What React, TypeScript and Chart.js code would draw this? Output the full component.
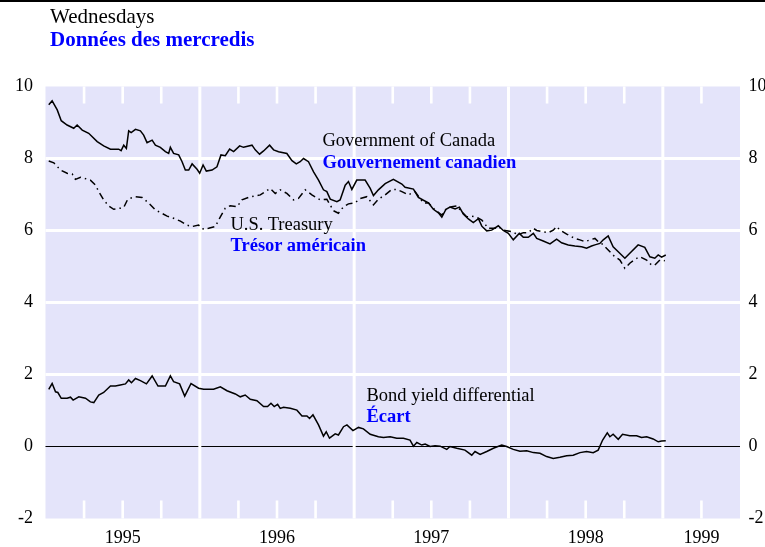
import React, { useEffect, useRef } from "react";
import { Chart, registerables } from "chart.js";

Chart.register(...registerables);

// ---------- DATA ----------
// Government of Canada long bond yield (weekly, Wednesdays), decimal-year dates
const canadaDates = [
  1995.021, 1995.043, 1995.076, 1995.102, 1995.140, 1995.183, 1995.205, 1995.238, 1995.280, 1995.335,
  1995.377, 1995.421, 1995.474, 1995.490, 1995.507, 1995.524, 1995.539, 1995.555, 1995.583, 1995.615,
  1995.636, 1995.658, 1995.691, 1995.712, 1995.744, 1995.777, 1995.798, 1995.809, 1995.830, 1995.863,
  1995.885, 1995.906, 1995.928, 1995.950, 1995.982, 1995.999, 1996.021, 1996.042, 1996.079, 1996.111,
  1996.137, 1996.165, 1996.193, 1996.219, 1996.258, 1996.283, 1996.338, 1996.359, 1996.387, 1996.413,
  1996.452, 1996.478, 1996.510, 1996.564, 1996.597, 1996.625, 1996.650, 1996.672, 1996.704, 1996.737,
  1996.769, 1996.801, 1996.823, 1996.845, 1996.888, 1996.909, 1996.942, 1996.963, 1996.985, 1997.017,
  1997.071, 1997.104, 1997.125, 1997.157, 1997.201, 1997.254, 1997.309, 1997.330, 1997.384, 1997.416,
  1997.449, 1997.481, 1997.513, 1997.546, 1997.568, 1997.595, 1997.621, 1997.654, 1997.682, 1997.707,
  1997.740, 1997.772, 1997.805, 1997.827, 1997.859, 1997.891, 1997.934, 1997.966, 1997.999, 1998.031,
  1998.070, 1998.096, 1998.128, 1998.161, 1998.183, 1998.225, 1998.269, 1998.312, 1998.344, 1998.387,
  1998.430, 1998.474, 1998.506, 1998.538, 1998.560, 1998.592, 1998.614, 1998.646, 1998.678, 1998.711,
  1998.754, 1998.786, 1998.840, 1998.883, 1998.916, 1998.948, 1998.970, 1998.992, 1999.019,
];
const canadaYields = [
  9.49, 9.60, 9.35, 9.05, 8.93, 8.84, 8.93, 8.79, 8.70, 8.47,
  8.35, 8.26, 8.26, 8.22, 8.37, 8.28, 8.77, 8.72, 8.81, 8.77,
  8.65, 8.44, 8.51, 8.37, 8.31, 8.19, 8.14, 8.31, 8.14, 8.10,
  7.91, 7.68, 7.68, 7.85, 7.70, 7.59, 7.82, 7.65, 7.68, 7.77,
  8.10, 8.08, 8.26, 8.19, 8.35, 8.31, 8.37, 8.24, 8.12, 8.21,
  8.37, 8.24, 8.19, 8.14, 7.94, 7.85, 7.91, 8.00, 7.91, 7.63,
  7.40, 7.13, 7.08, 6.87, 6.80, 6.85, 7.26, 7.36, 7.14, 7.40,
  7.40, 7.17, 6.97, 7.13, 7.30, 7.42, 7.29, 7.20, 7.15, 6.92,
  6.84, 6.77, 6.59, 6.49, 6.37, 6.59, 6.65, 6.60, 6.65, 6.46,
  6.32, 6.22, 6.33, 6.12, 5.99, 6.01, 6.13, 6.00, 5.92, 5.74,
  5.92, 5.81, 5.81, 5.92, 5.78, 5.71, 5.63, 5.76, 5.66, 5.60,
  5.57, 5.55, 5.51, 5.57, 5.60, 5.64, 5.74, 5.85, 5.55, 5.41,
  5.23, 5.37, 5.60, 5.53, 5.27, 5.23, 5.32, 5.26, 5.32,
];

// U.S. Treasury long bond yield
const usDates = [
  1995.021, 1995.054, 1995.097, 1995.140, 1995.173, 1995.194, 1995.227, 1995.291, 1995.324, 1995.345,
  1995.377, 1995.410, 1995.442, 1995.485, 1995.507, 1995.533, 1995.583, 1995.626, 1995.669, 1995.712,
  1995.744, 1995.788, 1995.830, 1995.874, 1995.917, 1995.950, 1995.992, 1996.025, 1996.057, 1996.100,
  1996.133, 1996.165, 1996.197, 1996.241, 1996.273, 1996.316, 1996.359, 1996.392, 1996.424, 1996.456,
  1996.489, 1996.521, 1996.564, 1996.607, 1996.639, 1996.683, 1996.726, 1996.780, 1996.823, 1996.866,
  1996.898, 1996.931, 1996.963, 1997.006, 1997.039, 1997.082, 1997.125, 1997.157, 1997.201, 1997.244,
  1997.276, 1997.309, 1997.351, 1997.395, 1997.449, 1997.481, 1997.524, 1997.568, 1997.600, 1997.632,
  1997.665, 1997.697, 1997.729, 1997.762, 1997.794, 1997.827, 1997.869, 1997.913, 1997.934, 1997.966,
  1998.021, 1998.063, 1998.096, 1998.128, 1998.161, 1998.183, 1998.215, 1998.258, 1998.290, 1998.312,
  1998.333, 1998.377, 1998.430, 1998.463, 1998.495, 1998.528, 1998.560, 1998.581, 1998.603, 1998.646,
  1998.689, 1998.722, 1998.754, 1998.786, 1998.819, 1998.851, 1998.895, 1998.927, 1998.948, 1998.981,
  1999.013,
];
const usYields = [
  7.93, 7.88, 7.68, 7.59, 7.57, 7.42, 7.48, 7.40, 7.26, 7.08,
  6.85, 6.68, 6.59, 6.62, 6.64, 6.87, 6.94, 6.92, 6.76, 6.57,
  6.50, 6.40, 6.34, 6.26, 6.15, 6.11, 6.15, 6.03, 6.06, 6.11,
  6.38, 6.62, 6.69, 6.66, 6.85, 6.92, 6.96, 6.99, 7.08, 7.17,
  7.03, 7.13, 7.03, 6.85, 6.89, 7.13, 6.99, 6.85, 6.87, 6.55,
  6.48, 6.66, 6.74, 6.77, 6.89, 6.94, 6.71, 6.87, 6.99, 7.14,
  7.14, 7.08, 6.99, 7.08, 6.76, 6.77, 6.57, 6.43, 6.62, 6.66,
  6.68, 6.52, 6.38, 6.40, 6.37, 6.29, 6.06, 6.06, 6.11, 6.01,
  5.97, 5.88, 5.94, 5.94, 6.06, 6.00, 5.97, 5.94, 6.01, 6.11,
  6.01, 5.90, 5.78, 5.74, 5.69, 5.74, 5.78, 5.69, 5.64, 5.46,
  5.27, 5.18, 4.95, 5.09, 5.20, 5.27, 5.18, 5.04, 5.04, 5.18,
  5.16,
];

// Bond yield differential (Canada minus U.S.)
const spreadDates = [
  1995.021, 1995.043, 1995.065, 1995.080, 1995.102, 1995.140, 1995.162, 1995.179, 1995.216, 1995.259,
  1995.291, 1995.313, 1995.345, 1995.377, 1995.421, 1995.453, 1995.485, 1995.518, 1995.539, 1995.557,
  1995.583, 1995.615, 1995.654, 1995.691, 1995.729, 1995.777, 1995.809, 1995.830, 1995.869, 1995.902,
  1995.943, 1995.992, 1996.025, 1996.089, 1996.133, 1996.176, 1996.230, 1996.262, 1996.294, 1996.327,
  1996.370, 1996.413, 1996.439, 1996.461, 1996.482, 1996.504, 1996.521, 1996.542, 1996.586, 1996.629,
  1996.662, 1996.694, 1996.711, 1996.733, 1996.769, 1996.801, 1996.819, 1996.840, 1996.877, 1996.898,
  1996.931, 1996.953, 1996.992, 1997.028, 1997.060, 1997.104, 1997.157, 1997.190, 1997.233, 1997.276,
  1997.319, 1997.362, 1997.384, 1997.406, 1997.438, 1997.460, 1997.492, 1997.524, 1997.557, 1997.600,
  1997.621, 1997.665, 1997.718, 1997.762, 1997.783, 1997.816, 1997.859, 1997.902, 1997.956, 1997.988,
  1998.031, 1998.074, 1998.118, 1998.161, 1998.204, 1998.247, 1998.290, 1998.333, 1998.377, 1998.419,
  1998.463, 1998.506, 1998.549, 1998.581, 1998.610, 1998.640, 1998.657, 1998.678, 1998.711, 1998.739,
  1998.786, 1998.830, 1998.862, 1998.895, 1998.937, 1998.970, 1998.992, 1999.019,
];
const spreadValues = [
  1.59, 1.75, 1.52, 1.50, 1.34, 1.34, 1.37, 1.29, 1.38, 1.34,
  1.24, 1.22, 1.43, 1.50, 1.68, 1.68, 1.71, 1.74, 1.85, 1.77,
  1.89, 1.83, 1.74, 1.96, 1.68, 1.68, 1.96, 1.80, 1.74, 1.40,
  1.75, 1.62, 1.59, 1.59, 1.66, 1.55, 1.46, 1.38, 1.43, 1.31,
  1.27, 1.11, 1.11, 1.20, 1.11, 1.17, 1.06, 1.09, 1.06, 1.01,
  0.85, 0.85, 0.78, 0.88, 0.60, 0.29, 0.41, 0.23, 0.35, 0.32,
  0.55, 0.60, 0.44, 0.53, 0.49, 0.34, 0.27, 0.25, 0.27, 0.23,
  0.23, 0.18, 0.01, 0.11, 0.04, 0.07, 0.00, 0.02, 0.01, -0.08,
  0.00, -0.05, -0.10, -0.24, -0.14, -0.22, -0.14, -0.05, 0.04, 0.00,
  -0.08, -0.13, -0.12, -0.17, -0.19, -0.28, -0.33, -0.30, -0.26, -0.24,
  -0.17, -0.14, -0.17, -0.10, 0.18, 0.38, 0.27, 0.34, 0.20, 0.34,
  0.30, 0.30, 0.25, 0.27, 0.21, 0.13, 0.15, 0.16,
];

// Axis / tick data
const yearTickValues = [1995.5, 1996.5, 1997.5, 1998.5, 1999.25];
const yearTickLabels = ["1995", "1996", "1997", "1998", "1999"];
const yearBoundaries = [1996, 1997, 1998, 1999];
const quarterTicks = [
  1995.25, 1995.5, 1995.75, 1996.25, 1996.5, 1996.75, 1997.25, 1997.5, 1997.75,
  1998.25, 1998.5, 1998.75, 1999.25,
];
const horizontalGridValues = [2, 4, 6, 8];

// ---------- STYLE ----------
const SERIF = '"Liberation Serif", "Times New Roman", Times, serif';
const PLOT_BG = "#e4e4fa";
const BLUE = "#0000ff";

const toPoints = (xs: number[], ys: number[]) => xs.map((x, i) => ({ x, y: ys[i] }));

const gridPlugin = {
  id: "bocGrid",
  beforeDatasetsDraw(chart: any) {
    const { ctx, chartArea: a, scales } = chart;
    const sx = scales.x;
    const sy = scales.y;
    ctx.save();
    ctx.fillStyle = PLOT_BG;
    ctx.fillRect(a.left, a.top, a.right - a.left, a.bottom - a.top);

    ctx.strokeStyle = "#ffffff";
    ctx.lineWidth = 3;
    for (const v of horizontalGridValues) {
      const py = sy.getPixelForValue(v);
      ctx.beginPath();
      ctx.moveTo(a.left, py);
      ctx.lineTo(a.right, py);
      ctx.stroke();
    }

    // zero line
    ctx.strokeStyle = "#000000";
    ctx.lineWidth = 1.2;
    const zy = sy.getPixelForValue(0);
    ctx.beginPath();
    ctx.moveTo(a.left, zy);
    ctx.lineTo(a.right, zy);
    ctx.stroke();

    ctx.strokeStyle = "#ffffff";
    ctx.lineWidth = 3;
    for (const v of yearBoundaries) {
      const px = sx.getPixelForValue(v);
      ctx.beginPath();
      ctx.moveTo(px, a.top);
      ctx.lineTo(px, a.bottom);
      ctx.stroke();
    }
    ctx.lineWidth = 2.6;
    for (const v of quarterTicks) {
      const px = sx.getPixelForValue(v);
      ctx.beginPath();
      ctx.moveTo(px, a.top);
      ctx.lineTo(px, a.top + 17);
      ctx.moveTo(px, a.bottom - 18);
      ctx.lineTo(px, a.bottom);
      ctx.stroke();
    }
    ctx.restore();
  },
};

function ChartCanvas() {
  const ref = useRef<HTMLCanvasElement | null>(null);
  useEffect(() => {
    if (!ref.current) return;
    const tickFont = { family: SERIF, size: 18 };
    const chart = new Chart(ref.current, {
      type: "line",
      data: {
        datasets: [
          {
            label: "Government of Canada",
            data: toPoints(canadaDates, canadaYields),
            borderColor: "#000000",
            borderWidth: 1.5,
            pointRadius: 0,
            tension: 0,
            yAxisID: "y",
          },
          {
            label: "U.S. Treasury",
            data: toPoints(usDates, usYields),
            borderColor: "#000000",
            borderWidth: 1.5,
            borderDash: [7, 4, 1.5, 4],
            pointRadius: 0,
            tension: 0,
            yAxisID: "y",
          },
          {
            label: "Bond yield differential",
            data: toPoints(spreadDates, spreadValues),
            borderColor: "#000000",
            borderWidth: 1.5,
            pointRadius: 0,
            tension: 0,
            yAxisID: "y",
          },
        ],
      },
      options: {
        animation: false,
        responsive: false,
        devicePixelRatio: 1,
        layout: { padding: { top: 86.5, left: 0, right: 0, bottom: 0 } },
        plugins: { legend: { display: false }, tooltip: { enabled: false }, title: { display: false } },
        scales: {
          x: {
            type: "linear",
            position: "bottom",
            min: 1995,
            max: 1999.5,
            grid: { display: false },
            border: { display: false },
            ticks: {
              font: tickFont,
              color: "#000000",
              padding: 1,
              autoSkip: false,
              maxRotation: 0,
              callback: (_v: any, i: number) => yearTickLabels[i],
            },
            afterBuildTicks: (s: any) => {
              s.ticks = yearTickValues.map((v) => ({ value: v }));
            },
            afterFit: (s: any) => {
              s.height = 28.5;
            },
          },
          y: {
            position: "left",
            min: -2,
            max: 10,
            grid: { display: false },
            border: { display: false },
            ticks: { stepSize: 2, font: tickFont, color: "#000000", padding: 4.5 },
            afterFit: (s: any) => {
              s.width = 45.5;
            },
          },
          y2: {
            position: "right",
            min: -2,
            max: 10,
            grid: { display: false },
            border: { display: false },
            ticks: { stepSize: 2, font: tickFont, color: "#000000", padding: 0.5 },
            afterFit: (s: any) => {
              s.width = 25;
            },
          },
        },
      },
      plugins: [gridPlugin],
    } as any);
    return () => chart.destroy();
  }, []);
  return (
    <canvas
      ref={ref}
      width={765}
      height={547}
      style={{ position: "absolute", left: 0, top: 0, width: 765, height: 547 }}
    />
  );
}

const textStyle = (left: number, top: number, size: number, bold: boolean, color: string): React.CSSProperties => ({
  position: "absolute",
  left,
  top,
  fontFamily: SERIF,
  fontSize: size,
  lineHeight: `${size}px`,
  fontWeight: bold ? 700 : 400,
  color,
  whiteSpace: "nowrap",
  margin: 0,
});

export default function App() {
  return (
    <div style={{ position: "absolute", left: 0, top: 0, width: 765, height: 547, overflow: "hidden", background: "#ffffff" }}>
      <ChartCanvas />
      <div style={{ position: "absolute", left: 0, top: 0, width: 765, height: 2, background: "#000000" }} />
      <div style={textStyle(50, 5.7, 21, false, "#000000")}>Wednesdays</div>
      <div style={textStyle(50, 29.1, 21, true, BLUE)}>Données des mercredis</div>

      <div style={textStyle(322.5, 131.2, 18.5, false, "#000000")}>Government of Canada</div>
      <div style={textStyle(322.5, 152.5, 18.5, true, BLUE)}>Gouvernement canadien</div>

      <div style={textStyle(230.5, 215, 18.5, false, "#000000")}>U.S. Treasury</div>
      <div style={textStyle(230.5, 236.2, 18.5, true, BLUE)}>Trésor américain</div>

      <div style={textStyle(366.5, 386.2, 18.5, false, "#000000")}>Bond yield differential</div>
      <div style={textStyle(366.5, 407.2, 18.5, true, BLUE)}>Écart</div>
    </div>
  );
}
